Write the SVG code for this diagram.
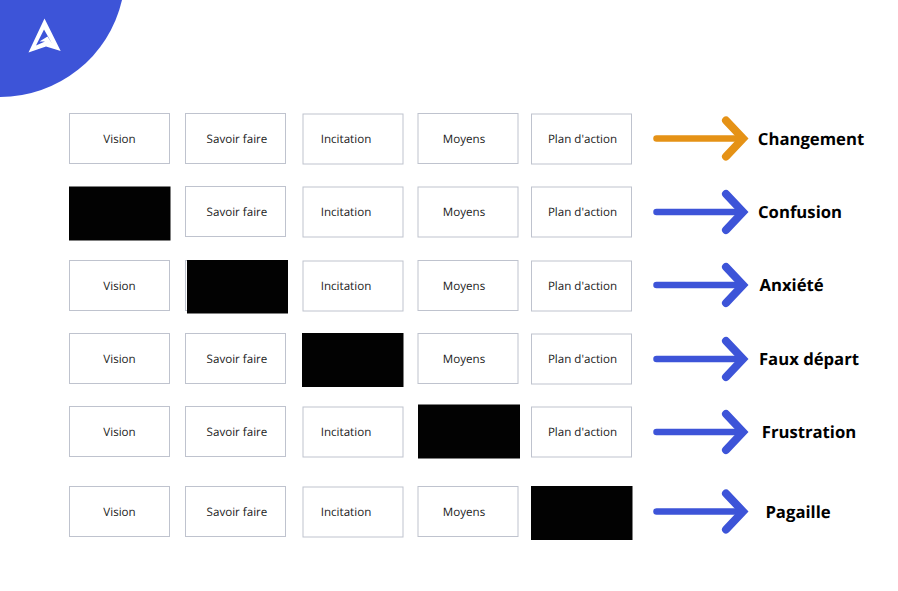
<svg xmlns="http://www.w3.org/2000/svg" width="898" height="591" viewBox="0 0 898 591">
<defs>
<style>
text{font-family:"Open Sans","Noto Sans",sans-serif;text-rendering:geometricPrecision}
.b{fill:#fff;stroke:#bfc3ce;stroke-width:1}
.k{fill:#020202;stroke:none}
.t{font-size:11.6px;fill:#1c1c1c;text-anchor:middle}
.o{font-size:16.7px;font-weight:700;fill:#000;text-anchor:middle}
.l{fill:none;stroke-width:6.500;stroke-linecap:round}
.h{fill:none;stroke-width:8;stroke-linecap:round;stroke-linejoin:miter}
.g{stroke:#e59216}
.u{stroke:#3d54d8}
</style>
<g id="arrow"><path class="l" d="M656.500 0H742"/><path class="h" d="M726 -18L743 0L726 18"/></g>
</defs>
<rect width="898" height="591" fill="#fff"/>
<g id="logo">
<path d="M0 0H122A125 125 0 0 1 0 97Z" fill="#3d54d8"/>
<path fill="#fff" fill-rule="evenodd" d="M44.500 18.500L60.700 51L46 46.500L28.500 52.500ZM44 29.500L36 45.500L45 41.500L39.500 41.500L47.500 36.500L52 43.500Z"/>
</g>
<g id="row1">
<rect class="b" x="69.500" y="113.500" width="100" height="50"/><text class="t" x="119.500" y="143">Vision</text>
<rect class="b" x="185.500" y="113.500" width="100" height="50"/><text class="t" x="237" y="143">Savoir faire</text>
<rect class="b" x="303" y="114" width="100" height="50"/><text class="t" x="346" y="143">Incitation</text>
<rect class="b" x="418" y="113.500" width="100" height="50"/><text class="t" x="464" y="143">Moyens</text>
<rect class="b" x="531.500" y="114" width="100" height="50"/><text class="t" x="582.500" y="143">Plan d'action</text>
</g>
<g id="row2">
<rect class="k" x="69" y="186.500" width="101.500" height="54"/>
<rect class="b" x="185.500" y="186.500" width="100" height="50"/><text class="t" x="237" y="216">Savoir faire</text>
<rect class="b" x="303" y="187" width="100" height="50"/><text class="t" x="346" y="216">Incitation</text>
<rect class="b" x="418" y="187" width="100" height="50"/><text class="t" x="464" y="216">Moyens</text>
<rect class="b" x="531.500" y="187" width="100" height="50"/><text class="t" x="582.500" y="216">Plan d'action</text>
</g>
<g id="row3">
<rect class="b" x="69.500" y="260.500" width="100" height="50"/><text class="t" x="119.500" y="290">Vision</text>
<rect class="b" x="185.500" y="260.500" width="100" height="50"/><rect class="k" x="187" y="260" width="101" height="53.500"/>
<rect class="b" x="303" y="261" width="100" height="50"/><text class="t" x="346" y="290">Incitation</text>
<rect class="b" x="418" y="260.500" width="100" height="50"/><text class="t" x="464" y="290">Moyens</text>
<rect class="b" x="531.500" y="261" width="100" height="50"/><text class="t" x="582.500" y="290">Plan d'action</text>
</g>
<g id="row4">
<rect class="b" x="69.500" y="333.500" width="100" height="50"/><text class="t" x="119.500" y="363">Vision</text>
<rect class="b" x="185.500" y="333.500" width="100" height="50"/><text class="t" x="237" y="363">Savoir faire</text>
<rect class="k" x="302" y="333" width="101.500" height="54"/>
<rect class="b" x="418" y="333.500" width="100" height="50"/><text class="t" x="464" y="363">Moyens</text>
<rect class="b" x="531.500" y="334" width="100" height="50"/><text class="t" x="582.500" y="363">Plan d'action</text>
</g>
<g id="row5">
<rect class="b" x="69.500" y="406.500" width="100" height="50"/><text class="t" x="119.500" y="436">Vision</text>
<rect class="b" x="185.500" y="406.500" width="100" height="50"/><text class="t" x="237" y="436">Savoir faire</text>
<rect class="b" x="303" y="407" width="100" height="50"/><text class="t" x="346" y="436">Incitation</text>
<rect class="k" x="418" y="404.500" width="102" height="54"/>
<rect class="b" x="531.500" y="407" width="100" height="50"/><text class="t" x="582.500" y="436">Plan d'action</text>
</g>
<g id="row6">
<rect class="b" x="69.500" y="486.500" width="100" height="50"/><text class="t" x="119.500" y="516">Vision</text>
<rect class="b" x="185.500" y="486.500" width="100" height="50"/><text class="t" x="237" y="516">Savoir faire</text>
<rect class="b" x="303" y="487" width="100" height="50"/><text class="t" x="346" y="516">Incitation</text>
<rect class="b" x="418" y="486.500" width="100" height="50"/><text class="t" x="464" y="516">Moyens</text>
<rect class="k" x="531" y="486" width="101.500" height="54"/>
</g>
<g id="connectors">
<use href="#arrow" class="g" y="138.500"/>
<use href="#arrow" class="u" y="212"/>
<use href="#arrow" class="u" y="285"/>
<use href="#arrow" class="u" y="359"/>
<use href="#arrow" class="u" y="432"/>
<use href="#arrow" class="u" y="511.500"/>
</g>
<g id="outcomes">
<text class="o" x="811" y="144.500">Changement</text>
<text class="o" x="800" y="217.500">Confusion</text>
<text class="o" x="791.500" y="290.500">Anxiété</text>
<text class="o" x="809" y="364.500">Faux départ</text>
<text class="o" x="809" y="437.500">Frustration</text>
<text class="o" x="798" y="517.500">Pagaille</text>
</g>
</svg>
